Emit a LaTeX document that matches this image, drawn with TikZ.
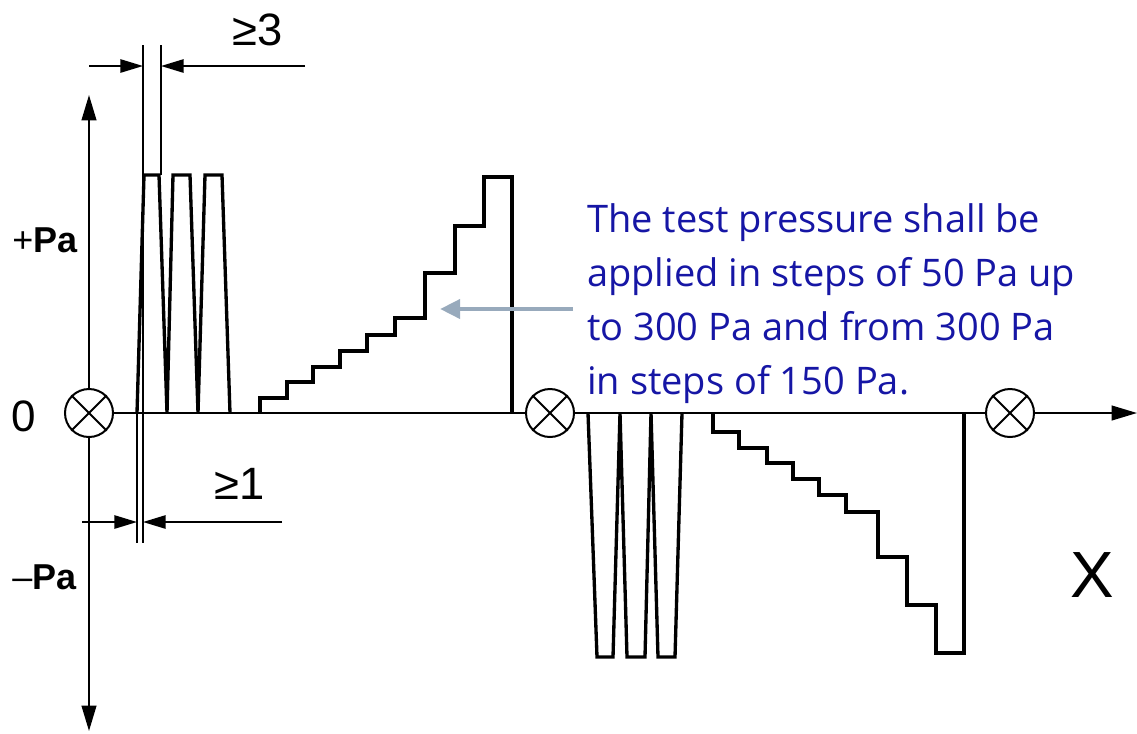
\documentclass[tikz,border=0pt]{standalone}
\usepackage{fontspec}
\setmainfont{Liberation Sans}
\newfontfamily\notefont{Open Sans}
\usetikzlibrary{arrows.meta}
\definecolor{noteblue}{RGB}{22,22,165}
\definecolor{arrowgrey}{RGB}{152,170,188}
\begin{document}
\begin{tikzpicture}[x=0.75pt,y=-0.75pt,
  axis/.style={line width=1.5pt},
  wave/.style={line width=2.5pt, line join=miter, miter limit=20},
  dimline/.style={line width=1.3pt},
  zerocirc/.style={circle, draw, line width=1.5pt, minimum size=36pt, inner sep=0pt},
  axtip/.style={-{Triangle[length=19pt,width=11pt]}},
  dimtip/.style={-{Triangle[length=17pt,width=10pt]}},
  lbl/.style={inner sep=0pt, text=black},
  note/.style={inner sep=0pt, anchor=base west, text=noteblue, font=\notefont\fontsize{28.5}{34}\selectfont}
]
\useasboundingbox (0,0) rectangle (1137,733);

% zero-point circles
\node[zerocirc] (c1) at (89,413) {};
\node[zerocirc] (c2) at (550,413) {};
\node[zerocirc] (c3) at (1010,413) {};
\foreach \c in {c1,c2,c3}{
  \draw[axis] (\c.45) -- (\c.225);
  \draw[axis] (\c.135) -- (\c.315);
}

% axes
\coordinate (ytop) at (89,95);
\coordinate (ybot) at (89,731);
\coordinate (xend) at (1137,413);
\draw[axis,axtip] (c1.north) -- (ytop);
\draw[axis,axtip] (c1.south) -- (ybot);
\draw[axis] (c1.east) -- (c2.west);
\draw[axis] (c2.east) -- (c3.west);
\draw[axis,axtip] (c3.east) -- (xend);

% positive pulses
\draw[wave] (137,413) -- (144,175) -- (159,175) -- (167,413) -- (173,175) -- (190,175)
  -- (198,413) -- (205,175) -- (222,175) -- (230,413);

% positive staircase
\draw[wave] (260,413) -- (260,398) -- (287,398) -- (287,382) -- (313,382) -- (313,367)
  -- (340,367) -- (340,351) -- (367,351) -- (367,335) -- (395,335) -- (395,318)
  -- (425,318) -- (425,273) -- (455,273) -- (455,226) -- (484,226) -- (484,177)
  -- (512,177) -- (512,413);

% negative pulses
\draw[wave] (588,413) -- (597,657) -- (613,657) -- (620,413) -- (627,657) -- (645,657)
  -- (651,413) -- (658,657) -- (675,657) -- (682,413);

% negative staircase
\draw[wave] (713,413) -- (713,432) -- (739,432) -- (739,448) -- (767,448) -- (767,463)
  -- (793,463) -- (793,479) -- (819,479) -- (819,495) -- (846,495) -- (846,512)
  -- (878,512) -- (878,557) -- (907,557) -- (907,605) -- (936,605) -- (936,653)
  -- (964,653) -- (964,413);

% top dimension (>=3)
\coordinate (e3a) at (143,45);
\coordinate (e3ab) at (143,175);
\coordinate (e3b) at (161,45);
\coordinate (e3bb) at (161,175);
\coordinate (d3l) at (89,66);
\coordinate (d3la) at (143,66);
\coordinate (d3r) at (305,66);
\coordinate (d3ra) at (161,66);
\draw[dimline] (e3a) -- (e3ab);
\draw[dimline] (e3b) -- (e3bb);
\draw[dimline,dimtip] (d3l) -- (d3la);
\draw[dimline,dimtip] (d3r) -- (d3ra);
\node[lbl, font=\fontsize{34}{38}\selectfont] (ge3) at (258,30) {≥3};

% bottom dimension (>=1)
\coordinate (e1a) at (137,413);
\coordinate (e1ab) at (137,543);
\coordinate (e1b) at (143,175);
\coordinate (e1bb) at (143,543);
\coordinate (d1l) at (82,522);
\coordinate (d1la) at (137,522);
\coordinate (d1r) at (282,522);
\coordinate (d1ra) at (143,522);
\draw[dimline] (e1a) -- (e1ab);
\draw[dimline] (e1b) -- (e1bb);
\draw[dimline,dimtip] (d1l) -- (d1la);
\draw[dimline,dimtip] (d1r) -- (d1ra);
\node[lbl, font=\fontsize{34}{38}\selectfont] (ge1) at (240,484) {≥1};

% axis labels
\node[lbl, anchor=base west, font=\fontsize{27}{30}\selectfont] (ppa) at (12,252) {+\textbf{Pa}};
\node[lbl, anchor=base west, font=\fontsize{27}{30}\selectfont] (mpa) at (12,589) {–\textbf{Pa}};
\node[lbl, font=\fontsize{33}{36}\selectfont] (zero) at (24,416) {0};
\node[lbl, font=\fontsize{49}{52}\selectfont] (xlab) at (1092,575) {X};

% note
\node[note] (n1) at (587,232) {The test pressure shall be};
\node[note] (n2) at (587,286) {applied in steps of 50 Pa up};
\node[note] (n3) at (587,340) {to 300 Pa and from 300 Pa};
\node[note] (n4) at (587,394) {in steps of 150 Pa.};
\coordinate (arrs) at (573,309);
\coordinate (arre) at (440,309);
\draw[arrowgrey, line width=3.4pt, -{Triangle[length=15pt,width=14pt]}] (arrs) -- (arre);
\end{tikzpicture}
\end{document}
